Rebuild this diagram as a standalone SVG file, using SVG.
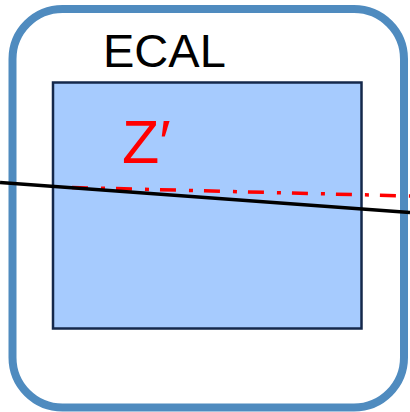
<svg xmlns="http://www.w3.org/2000/svg" width="410" height="412" viewBox="0 0 410 412">
<style>
.lbl{font-family:"Liberation Sans",Arial,sans-serif}
</style>
<rect width="410" height="412" fill="#ffffff"/>
<g id="outer">
<rect x="12.5" y="9" width="391.5" height="398.5" rx="50" ry="50" fill="#ffffff" stroke="#4f8bbf" stroke-width="8"/>
<text class="lbl" x="103" y="67" font-size="47" fill="#000000">ECAL</text>
</g>
<g id="ecal">
<rect x="53" y="82.5" width="308.5" height="246" fill="#a6cbfe" stroke="#14284b" stroke-width="2.5"/>
<text class="lbl" x="122" y="163" font-size="61" fill="#ff0000">Z′</text>
</g>
<g id="connectors">
<line x1="72" y1="187.5" x2="410" y2="196" stroke="#ff0000" stroke-width="3.5" stroke-dasharray="16 13 4 11"/>
<line x1="0" y1="182.5" x2="410" y2="212.5" stroke="#000000" stroke-width="3.5"/>
</g>
</svg>
